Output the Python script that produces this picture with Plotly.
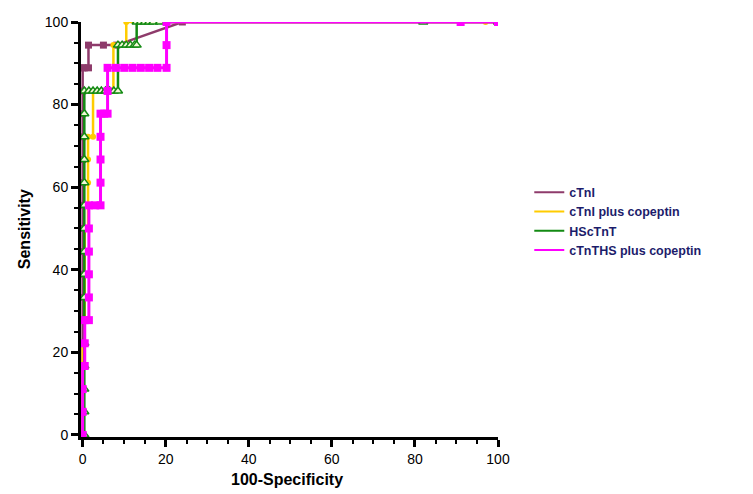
import plotly.graph_objects as go

# ---- data ----
ctni_x = [0, 0, 0, 0, 0, 0, 0, 0, 0, 0, 0, 0, 0, 0, 0, 0, 0, 0.4, 1.4, 1.4, 5, 8.2, 24, 100]
ctni_y = [0, 5.6, 11.1, 16.7, 22.2, 27.8, 33.3, 38.9, 44.4, 50, 55.6, 61.1, 66.7, 72.2, 77.8, 83.3,
          88.9, 88.9, 88.9, 94.4, 94.4, 94.4, 100, 100]

cop_x = [0, 0, 0, 0, 0, 0.5, 0.5, 0.5, 0.5, 0.5, 0.5, 1.3, 1.3, 1.3, 1.3, 1.3, 2.5, 2.5,
         7.4, 7.4, 10.5, 10.5, 97, 100]
cop_y = [0, 5.6, 11.1, 16.7, 22.2, 22.2, 27.8, 33.3, 38.9, 44.4, 50, 50, 55.6, 61.1, 66.7, 72.2,
         72.2, 83.3, 83.3, 94.4, 94.4, 100, 100, 100]

hs_x = [0.4, 0.4, 0.4, 0.4, 0.4, 0.4, 0.4, 0.4, 0.4, 0.4, 0.4, 0.4, 0.4, 0.4, 0.4, 0.4,
        1.5, 2.5, 3.5, 4.5, 5.5, 6.5, 7.5, 8.5, 8.5, 9.5, 10.5, 11.5, 12.5, 13, 13,
        14, 15, 16, 17, 18.6, 82, 100]
hs_y = [0, 5.6, 11.1, 16.7, 22.2, 27.8, 33.3, 38.9, 44.4, 50, 55.6, 61.1, 66.7, 72.2, 77.8, 83.3,
        83.3, 83.3, 83.3, 83.3, 83.3, 83.3, 83.3, 83.3, 94.4, 94.4, 94.4, 94.4, 94.4, 94.4, 100,
        100, 100, 100, 100, 100, 100, 100]

ths_x = [0, 0, 0, 0, 0.5, 0.5, 0.5, 1.5, 1.5, 1.5, 1.5, 1.5, 1.5, 3, 4.3, 4.3, 4.3, 4.3, 4.3,
         5.2, 6, 6, 6, 8, 10, 12, 14, 16, 18, 20.2, 20.2, 20.2, 91, 100]
ths_y = [0, 5.6, 11.1, 16.7, 16.7, 22.2, 27.8, 27.8, 33.3, 38.9, 44.4, 50, 55.6, 55.6, 55.6, 61.1,
         66.7, 72.2, 77.8, 77.8, 77.8, 83.3, 88.9, 88.9, 88.9, 88.9, 88.9, 88.9, 88.9, 88.9, 94.4,
         100, 100, 100]

names = ["cTnI", "cTnI plus copeptin", "HScTnT", "cTnTHS plus copeptin"]
colors = ["#8E3B6B", "#FFCC00", "#138A13", "#FF00FF"]
x_title = "100-Specificity"
y_title = "Sensitivity"

fig = go.Figure()

fig.add_trace(go.Scatter(x=ctni_x, y=ctni_y, mode="lines+markers", showlegend=False,
                         line=dict(color=colors[0], width=2.5),
                         marker=dict(symbol="square", size=7, color=colors[0])))
fig.add_trace(go.Scatter(x=cop_x, y=cop_y, mode="lines+markers", showlegend=False,
                         line=dict(color=colors[1], width=2.5),
                         marker=dict(symbol="circle", size=6, color=colors[1])))
fig.add_trace(go.Scatter(x=hs_x, y=hs_y, mode="lines+markers", showlegend=False,
                         line=dict(color=colors[2], width=2.5),
                         marker=dict(symbol="triangle-up", size=8, color="#F4F8D8",
                                     line=dict(color=colors[2], width=1.5))))
fig.add_trace(go.Scatter(x=ths_x, y=ths_y, mode="lines+markers", showlegend=False,
                         line=dict(color=colors[3], width=3),
                         marker=dict(symbol="square", size=8, color=colors[3])))

# legend entries (line only)
for n, c in zip(names, colors):
    fig.add_trace(go.Scatter(x=[None], y=[None], mode="lines", name=n,
                             line=dict(color=c, width=2)))

axis_common = dict(
    showline=True, linecolor="black", linewidth=3, mirror=False, automargin=False,
    ticks="outside", ticklen=7, tickwidth=2.5, tickcolor="black",
    showgrid=False, zeroline=False,
    tickfont=dict(family="Arial, Liberation Sans", size=14, color="black"),
    minor=dict(ticks="outside", ticklen=4, tickwidth=1.5, tickcolor="black", dtick=5, showgrid=False),
    tick0=0, dtick=20,
)

title_font = dict(family="Arial, Liberation Sans", size=16, color="black", weight="bold")

fig.update_layout(
    width=753, height=494,
    margin=dict(l=81, r=255, t=22, b=57),
    paper_bgcolor="white", plot_bgcolor="white",
    xaxis=dict(range=[-0.4, 100], **axis_common),
    yaxis=dict(range=[-0.5, 100], **axis_common),
    legend=dict(x=1.075, y=0.625, xanchor="left", yanchor="top",
                font=dict(family="Arial, Liberation Sans", size=12.5, color="#1C1C6B", weight="bold"),
                tracegroupgap=0, itemwidth=30, bgcolor="rgba(0,0,0,0)"),
    annotations=[
        dict(text=x_title, xref="paper", yref="paper", x=0.495, y=-0.103,
             xanchor="center", yanchor="middle", showarrow=False, font=title_font),
        dict(text=y_title, xref="paper", yref="paper", x=-0.135, y=0.5,
             xanchor="center", yanchor="middle", textangle=-90, showarrow=False, font=title_font),
    ],
)

fig.write_html("out.html")
